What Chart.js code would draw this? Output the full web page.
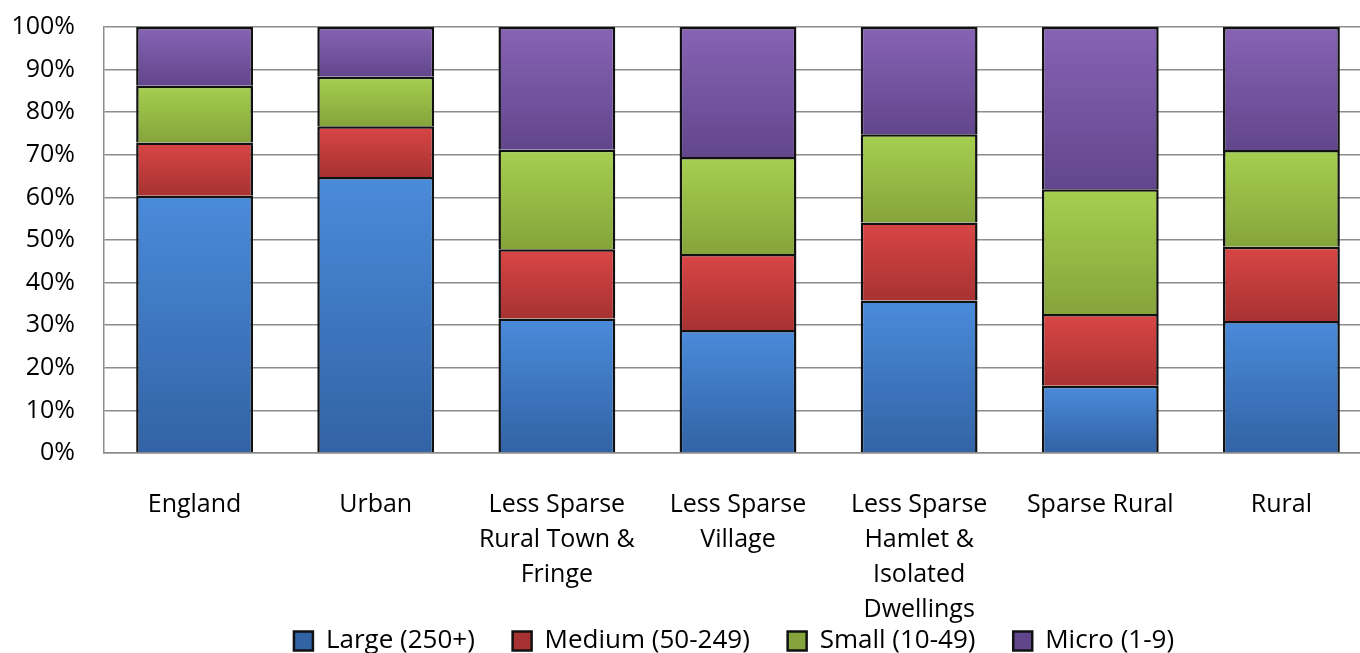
<!DOCTYPE html>
<html>
<head>
<meta charset="utf-8">
<script src="https://cdn.jsdelivr.net/npm/chart.js@4.4.1/dist/chart.umd.min.js"></script>
<style>
  html, body { margin: 0; padding: 0; background: #fff; overflow: hidden; }
  #wrap { width: 1372px; height: 653px; }
</style>
</head>
<body>
<div id="wrap"><canvas id="sizeChart"></canvas></div>
<script>
// share of businesses by size band, per area type (%)
const areas = [
    ['England'],
    ['Urban'],
    ['Less Sparse', 'Rural Town &', 'Fringe'],
    ['Less Sparse', 'Village'],
    ['Less Sparse', 'Hamlet &', 'Isolated', 'Dwellings'],
    ['Sparse Rural'],
    ['Rural']
];
const large  = [60.4, 64.8, 31.6, 28.9, 35.8, 15.8, 31.0];
const medium = [12.5, 11.9, 16.2, 17.8, 18.3, 16.8, 17.4];
const small  = [13.3, 11.6, 23.4, 22.8, 20.7, 29.3, 22.7];
const micro  = [13.8, 11.7, 28.8, 30.5, 25.2, 38.1, 28.9];
const yTicks = [0, 10, 20, 30, 40, 50, 60, 70, 80, 90, 100];

const series = [large, medium, small, micro];
const shades = [
    ['#4a8bda', '#3263a5'],
    ['#d94646', '#a83232'],
    ['#a6cf50', '#85a43b'],
    ['#8763b5', '#62468c']
];

// lighter at the top of each segment, darker at its foot
function segFill(k) {
    return function (c) {
        const chart = c.chart;
        if (!chart.chartArea || c.type !== 'data') return shades[k][0];
        let base = 0;
        for (let j = 0; j < k; j++) base += series[j][c.dataIndex];
        const top = base + series[k][c.dataIndex];
        const y = chart.scales.y;
        const g = chart.ctx.createLinearGradient(0, y.getPixelForValue(top), 0, y.getPixelForValue(base));
        g.addColorStop(0, shades[k][0]);
        g.addColorStop(1, shades[k][1]);
        return g;
    };
}

function band(label, data, k) {
    return {
        label: label,
        data: data,
        backgroundColor: segFill(k),
        borderColor: '#111',
        borderWidth: 2.5,
        barPercentage: 0.645,
        categoryPercentage: 1
    };
}

// the original legend sits a little right of the canvas centre
const legendShift = {
    id: 'legendShift',
    afterLayout(chart) {
        chart.legend.left += 48;
        chart.legend.right += 48;
    }
};

Chart.defaults.font.family = "'Open Sans', 'Liberation Sans', sans-serif";
Chart.defaults.color = '#000';

const padBottom = -11;

const ctx = document.getElementById('sizeChart').getContext('2d');
const sizeChart = new Chart(ctx, {
    type: 'bar',
    data: {
        labels: areas,
        datasets: [
            band('Large (250+)', large, 0),
            band('Medium (50-249)', medium, 1),
            band('Small (10-49)', small, 2),
            band('Micro (1-9)', micro, 3)
        ]
    },
    options: {
        responsive: true,
        maintainAspectRatio: false,
        animation: false,
        layout: { padding: { top: 27, left: 0, right: 0, bottom: padBottom } },
        plugins: {
            tooltip: { enabled: false },
            legend: {
                position: 'bottom',
                labels: {
                    font: { size: 26 },
                    boxWidth: 19,
                    boxHeight: 19,
                    padding: 4,
                    // wider gaps between entries, as in the original
                    generateLabels: function (chart) {
                        const items = Chart.defaults.plugins.legend.labels.generateLabels(chart);
                        items.forEach((it, i) => {
                            if (i < items.length - 1) it.text = it.text + '\u00a0\u00a0\u00a0\u00a0\u00a0';
                        });
                        return items;
                    }
                }
            }
        },
        scales: {
            x: {
                stacked: true,
                grid: { display: false, drawTicks: false },
                border: { display: true, color: '#8c8c8c', width: 1.5 },
                ticks: {
                    font: { size: 25, lineHeight: 1.4 },
                    padding: 34,
                    autoSkip: false,
                    maxRotation: 0
                },
                afterFit: function (scale) {
                    const lg = scale.chart.legend;
                    const lh = lg && lg.height ? lg.height : 38;
                    scale.height = 653 - padBottom - lh - 453;
                }
            },
            y: {
                stacked: true,
                min: 0,
                max: 100,
                grid: {
                    color: '#8c8c8c',
                    lineWidth: 1.5,
                    drawTicks: true,
                    tickLength: 29,
                    tickColor: 'rgba(0,0,0,0)'
                },
                border: { display: true, color: '#8c8c8c', width: 1.5 },
                afterBuildTicks: function (scale) {
                    scale.ticks = yTicks.map(v => ({ value: v }));
                },
                ticks: {
                    font: { size: 25 },
                    padding: 0,
                    callback: v => v + '%'
                },
                afterFit: function (scale) {
                    scale.width = 104;
                }
            }
        }
    },
    plugins: [legendShift]
});
</script>
</body>
</html>
